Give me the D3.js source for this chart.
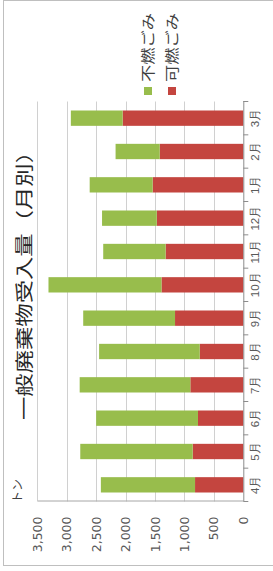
<!DOCTYPE html>
<html lang="ja">
<head>
<meta charset="UTF-8">
<title>一般廃棄物受入量（月別）</title>
<script src="https://d3js.org/d3.v7.min.js"></script>
<style>
    body { margin: 0; background: #fff; }
    svg { display: block; font-family: "Noto Sans CJK JP", sans-serif; }
</style>
</head>
<body>
<svg width="273" height="571"></svg>
<script>
    // data (tons per month)
    const months = ["4月", "5月", "6月", "7月", "8月", "9月", "10月", "11月", "12月", "1月", "2月", "3月"];
    const burnable = [820, 860, 770, 900, 740, 1160, 1390, 1320, 1470, 1540, 1420, 2050];      // 可燃ごみ
    const nonBurnable = [1600, 1910, 1730, 1880, 1710, 1560, 1920, 1060, 930, 1070, 750, 880]; // 不燃ごみ
    const valueTicks = [0, 500, 1000, 1500, 2000, 2500, 3000, 3500];
    const seriesNames = ["可燃ごみ", "不燃ごみ"];
    const colors = ["#C4453F", "#98BD4C"];

    const svg = d3.select("svg");

    // chart is drawn upright in a 571x273 frame, then turned 90deg counter-clockwise
    const W = 571;
    const g = svg.append("g").attr("transform", `translate(0,${W}) rotate(-90)`);

    // outer frame
    g.append("rect")
        .attr("x", 5.5).attr("y", 3.5)
        .attr("width", 565).attr("height", 290)
        .attr("fill", "none").attr("stroke", "#BFBFBF");

    const plotLeft = 69.5, plotRight = 469.5, plotTop = 37.3, plotBottom = 243.3;

    const x = d3.scaleBand().domain(months).range([plotLeft, plotRight])
        .paddingInner(0.54).paddingOuter(0.27);
    const y = d3.scaleLinear().domain([0, 3500]).range([plotBottom, plotTop]);

    // gridlines
    g.append("g").selectAll("line")
        .data(valueTicks.filter(d => d > 0))
        .join("line")
        .attr("x1", plotLeft).attr("x2", plotRight)
        .attr("y1", d => Math.round(y(d)) + 0.5).attr("y2", d => Math.round(y(d)) + 0.5)
        .attr("stroke", "#D0D0D0");

    // stacked bars
    const rows = months.map((m, i) => ({ month: m, a: burnable[i], b: nonBurnable[i] }));
    const stacked = d3.stack().keys(["a", "b"])(rows);

    g.append("g").selectAll("g")
        .data(stacked)
        .join("g")
        .attr("fill", (d, i) => colors[i])
        .selectAll("rect")
        .data(d => d)
        .join("rect")
        .attr("x", d => x(d.data.month))
        .attr("width", x.bandwidth())
        .attr("y", d => y(d[1]))
        .attr("height", d => y(d[0]) - y(d[1]));

    // value axis
    const yAxis = g.append("g")
        .attr("transform", `translate(${plotLeft},0)`)
        .call(d3.axisLeft(y).tickValues(valueTicks).tickFormat(d3.format(",")).tickSize(0).tickPadding(15));
    yAxis.select(".domain").attr("stroke", "#A6A6A6");
    yAxis.selectAll("text").attr("fill", "#595959").style("font-size", "12.5px")
        .style("font-family", "'DejaVu Sans', sans-serif");

    // category axis
    const xAxis = g.append("g")
        .attr("transform", `translate(0,${plotBottom})`)
        .call(d3.axisBottom(x).tickSize(0).tickPadding(8));
    xAxis.select(".domain").attr("stroke", "#8C8C8C");
    xAxis.selectAll("text").attr("fill", "#595959").style("font-size", "11.5px");

    const step = (plotRight - plotLeft) / months.length;
    xAxis.append("g").selectAll("line")
        .data(d3.range(months.length + 1))
        .join("line")
        .attr("x1", i => plotLeft + i * step).attr("x2", i => plotLeft + i * step)
        .attr("y1", 0).attr("y2", 5)
        .attr("stroke", "#8C8C8C");

    // unit
    g.append("text")
        .attr("x", 68).attr("y", 22)
        .attr("fill", "#404040").style("font-size", "12px")
        .text("トン");

    // title
    g.append("text")
        .attr("x", 291).attr("y", 31)
        .attr("text-anchor", "middle")
        .attr("textLength", 280).attr("lengthAdjust", "spacingAndGlyphs")
        .attr("fill", "#262626").style("font-size", "18px")
        .text("一般廃棄物受入量（月別）");

    // legend (不燃ごみ above 可燃ごみ)
    const legend = g.append("g").selectAll("g")
        .data([1, 0])
        .join("g")
        .attr("transform", (d, i) => `translate(476,${144 + i * 24})`);
    legend.append("rect")
        .attr("width", 8).attr("height", 8)
        .attr("fill", d => colors[d]);
    legend.append("text")
        .attr("x", 13).attr("y", 4).attr("dy", "0.36em")
        .attr("textLength", 69).attr("lengthAdjust", "spacingAndGlyphs")
        .attr("fill", "#404040").style("font-size", "14px")
        .text(d => seriesNames[d]);
</script>
</body>
</html>
